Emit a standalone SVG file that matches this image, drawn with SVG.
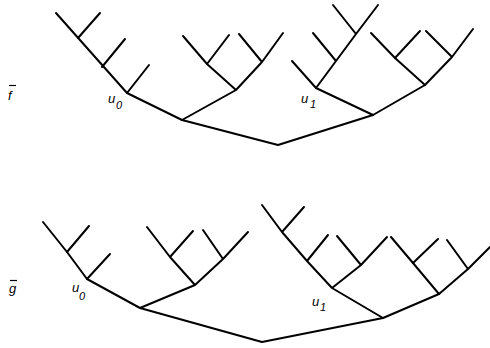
<svg xmlns="http://www.w3.org/2000/svg" width="490" height="348" viewBox="0 0 490 348">
<style>
.e{fill:none;stroke:#000;stroke-width:2;stroke-linecap:round;stroke-linejoin:round}
.t{font-family:"Liberation Sans",Arial,sans-serif;font-style:italic;fill:#000}
.lab{font-size:13px}
.u{font-size:13px}
.s{font-size:11px}
</style>
<rect width="490" height="348" fill="#fff"/>
<g id="connectors">
<g id="tree-f">
<path class="e" d="M56,13 L127,93 L182,120 L278,145 L373,115 L425,85 L395,58 L371,33"/>
<path class="e" d="M78,38 L100,13 M102,67 L125,39 M127,93 L149,65"/>
<path class="e" d="M182,120 L236,90 L207,64 L183,36 M207,64 L229,35 M236,90 L262,62 L239,34 M262,62 L283,33"/>
<path class="e" d="M373,115 L316,88 L292,61 M316,88 L336,61 L356,34 L378,5 M336,61 L313,33 M356,34 L333,5"/>
<path class="e" d="M395,58 L420,31 M425,85 L452,57 L473,29 M452,57 L426,31"/>
</g>
<g id="tree-g">
<path class="e" d="M43,222 L67,252 L87,279 L140,308 L262,342 L383,318 L439,294 L413,263 L391,237"/>
<path class="e" d="M67,252 L89,226 M87,279 L110,254"/>
<path class="e" d="M140,308 L195,285 L170,257 L147,227 M170,257 L193,231 M195,285 L223,259 L248,232 M223,259 L203,230"/>
<path class="e" d="M383,318 L332,288 L307,261 L282,232 L262,205 M282,232 L304,207 M307,261 L328,235 M332,288 L361,265 L387,237 M361,265 L337,236"/>
<path class="e" d="M413,263 L438,239 M439,294 L468,269 L490,247 M468,269 L447,240"/>
</g>
</g>
<g id="label-f">
<text class="t lab" x="8" y="100">f</text>
<line x1="9" y1="85.5" x2="16" y2="85.5" stroke="#000" stroke-width="1.2"/>
</g>
<g id="label-u0-f"><text class="t u" x="108" y="103">u</text><text class="t s" x="116" y="109">0</text></g>
<g id="label-u1-f"><text class="t u" x="301" y="103">u</text><text class="t s" x="310" y="108">1</text></g>
<g id="label-g">
<text class="t lab" x="9" y="293">g</text>
<line x1="10" y1="280.5" x2="17" y2="280.5" stroke="#000" stroke-width="1.2"/>
</g>
<g id="label-u0-g"><text class="t u" x="72" y="292">u</text><text class="t s" x="79" y="300">0</text></g>
<g id="label-u1-g"><text class="t u" x="312" y="306">u</text><text class="t s" x="320" y="311">1</text></g>
</svg>
